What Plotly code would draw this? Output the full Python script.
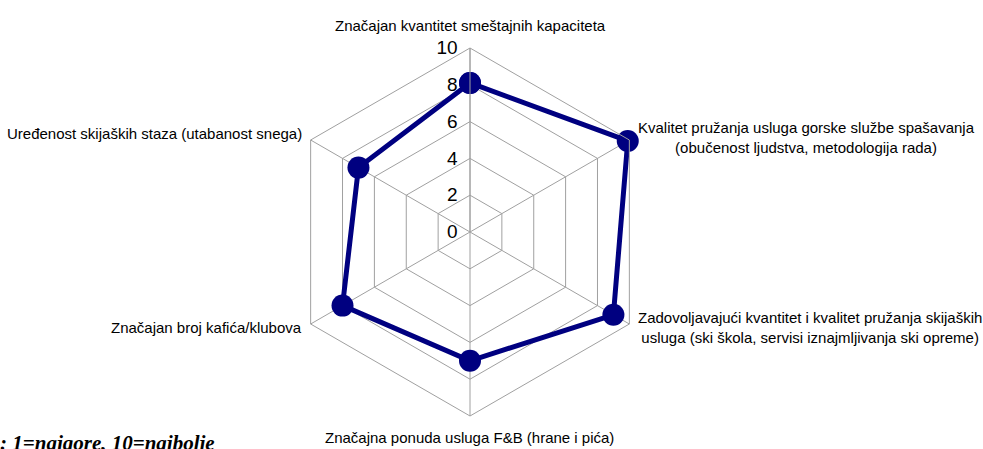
import plotly.graph_objects as go

categories = [
    "Značajan kvantitet smeštajnih kapaciteta",
    "Kvalitet pružanja usluga gorske službe spašavanja<br>(obučenost ljudstva, metodologija rada)",
    "Zadovoljavajući kvantitet i kvalitet pružanja skijaških<br>usluga (ski škola, servisi iznajmljivanja ski opreme)",
    "Značajna ponuda usluga F&B (hrane i pića)",
    "Značajan broj kafića/klubova",
    "Uređenost skijaških staza (utabanost snega)",
]
values = [8.1, 9.9, 9.0, 7.0, 8.0, 7.0]
radial_ticks = [0, 2, 4, 6, 8, 10]
footnote = ": 1=najgore, 10=najbolje"

W, H = 983, 449
cx, cy, R = 470, 232, 184

SANS = "Liberation Sans, Arial, sans-serif"
GRID = "#a0a0a0"
NAVY = "#000080"

theta_keys = [f"c{i}" for i in range(len(categories))]

fig = go.Figure()
fig.add_trace(go.Scatterpolar(
    r=values + values[:1],
    theta=theta_keys + theta_keys[:1],
    mode="lines+markers",
    line=dict(color=NAVY, width=5),
    marker=dict(color=NAVY, size=22),
    showlegend=False,
    hoverinfo="skip",
))

fig.update_layout(
    width=W, height=H,
    margin=dict(l=0, r=0, t=0, b=0),
    paper_bgcolor="white",
    plot_bgcolor="white",
    polar=dict(
        domain=dict(x=[(cx - R) / W, (cx + R) / W], y=[1 - (cy + R) / H, 1 - (cy - R) / H]),
        gridshape="linear",
        bgcolor="white",
        radialaxis=dict(
            range=[0, 10], tickvals=radial_ticks,
            ticktext=[str(t) + "\u00a0" for t in radial_ticks],
            angle=90, tickangle=90, side="counterclockwise",
            showline=True, linecolor=GRID, linewidth=1,
            gridcolor=GRID, gridwidth=1, ticks="",
            tickfont=dict(family=SANS, size=19, color="black"),
        ),
        angularaxis=dict(
            type="category", categoryarray=theta_keys,
            rotation=90, direction="clockwise",
            showline=True, linecolor=GRID, linewidth=1,
            showgrid=True, gridcolor=GRID, gridwidth=1,
            showticklabels=False, ticks="",
        ),
    ),
)

label_pos = [
    (470, 26, "center"),
    (636, 137, "left"),
    (636, 327, "left"),
    (469, 437, "center"),
    (304, 327, "right"),
    (304, 133, "right"),
]
for text, (px, py, anchor) in zip(categories, label_pos):
    fig.add_annotation(
        x=px / W, y=1 - py / H, xref="paper", yref="paper",
        text=text, showarrow=False, xanchor=anchor, yanchor="middle", align="center",
        font=dict(family=SANS, size=15, color="black"),
    )

fig.add_annotation(
    x=-2 / W, y=1 - 429 / H, xref="paper", yref="paper",
    text="<b><i>" + footnote + "</i></b>", showarrow=False, xanchor="left", yanchor="top",
    font=dict(family="Liberation Serif, Times New Roman, serif", size=21, color="black"),
)

fig.write_html(
    "out.html",
    config={"displayModeBar": False},
    post_script="document.body.style.margin='0';document.body.style.overflow='hidden';",
)
